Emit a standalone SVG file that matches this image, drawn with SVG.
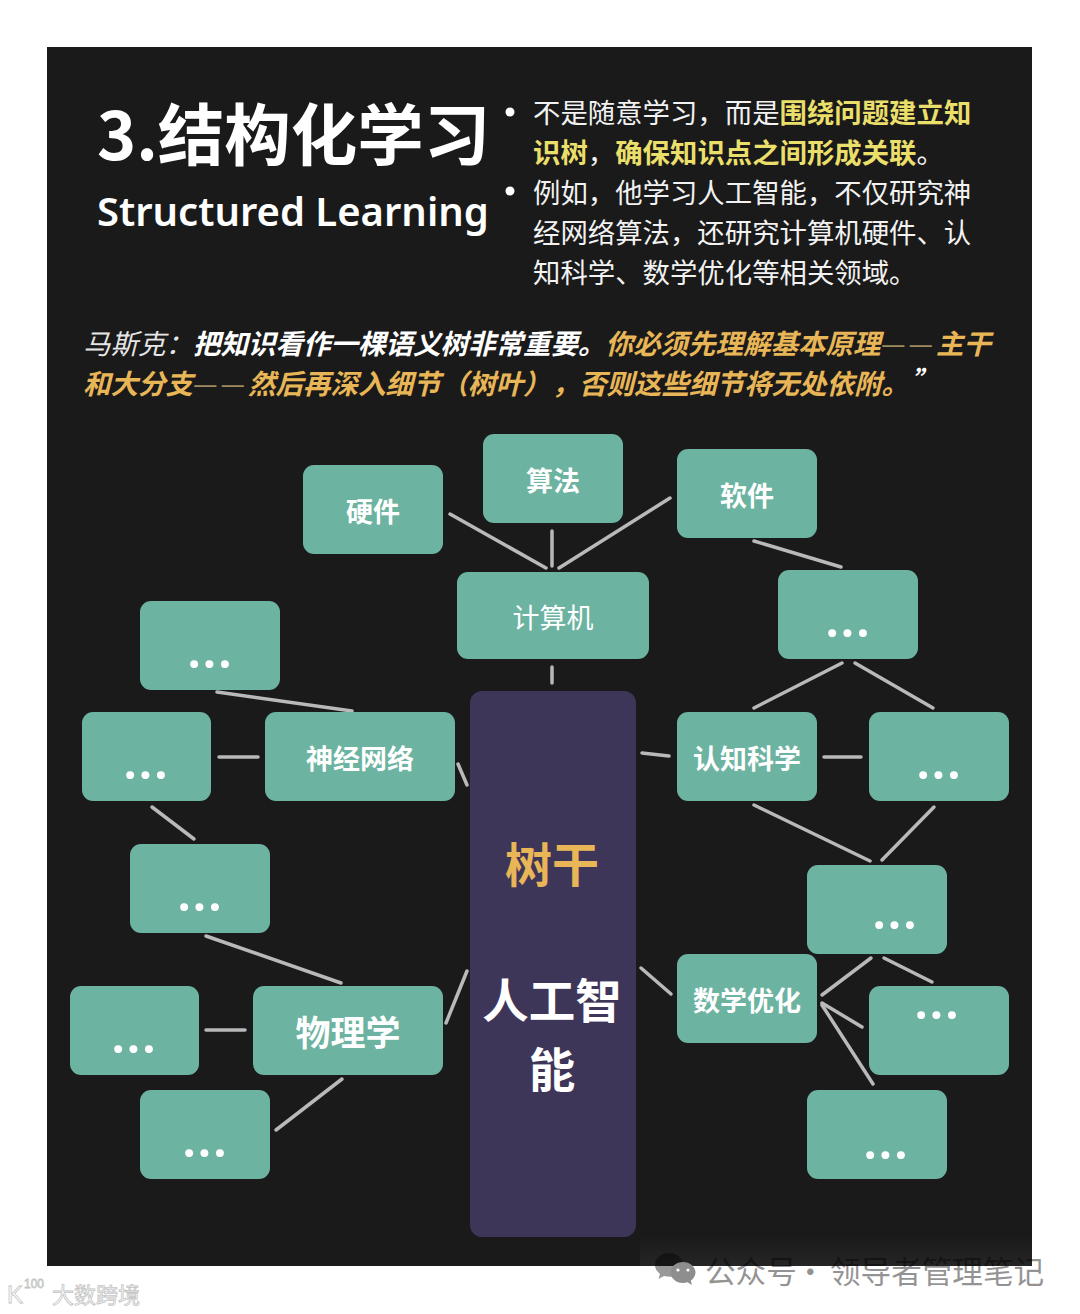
<svg xmlns="http://www.w3.org/2000/svg" width="1080" height="1314" viewBox="0 0 1080 1314">
<style>
text{font-family:"Noto Sans CJK SC","Noto Sans",sans-serif}
.n{fill:#6cb3a1}
.l{fill:#fff;font-weight:700;font-size:27px;text-anchor:middle}
.d{fill:#fff;font-family:"Lato",sans-serif;font-weight:700;font-size:52px;text-anchor:middle;letter-spacing:3px}
.b{fill:#f2f2f2;font-size:27.4px}
.y{fill:#eadf6a;font-weight:700}
.q{font-size:27.5px;font-style:italic;font-weight:700}
.h{font-size:27.5px;font-style:normal;font-weight:400;fill:#a08c5e}
.wm{fill:#fff;stroke:#c4c4c4;stroke-width:.8}
#c line{stroke:#b9b9bb;stroke-width:3.5;stroke-linecap:round}
</style>
<defs><linearGradient id="g" x1="0" y1="0" x2="0" y2="1"><stop offset="0" stop-color="#fff" stop-opacity="0"/><stop offset="1" stop-color="#fff" stop-opacity=".05"/></linearGradient></defs>
<rect width="1080" height="1314" fill="#fff"/>
<rect x="47" y="47" width="985" height="1219" fill="#1a1a1a"/>
<rect x="640" y="1236" width="392" height="30" fill="url(#g)"/>
<text x="97" y="160" fill="#fff" font-size="66.5" font-weight="700">3.结构化学习</text>
<text x="97" y="226" fill="#fff" font-size="40" font-weight="600" style="font-family:'Noto Sans',sans-serif">Structured Learning</text>
<circle cx="510" cy="112" r="4.5" fill="#fff"/><circle cx="510" cy="191" r="4.5" fill="#fff"/>
<text x="533" y="123" class="b">不是随意学习&#xFF0C;而是<tspan class="y">围绕问题建立知</tspan></text>
<text x="533" y="163" class="b"><tspan class="y">识树</tspan>&#xFF0C;<tspan class="y">确保知识点之间形成关联</tspan>。</text>
<text x="533" y="203" class="b">例如&#xFF0C;他学习人工智能&#xFF0C;不仅研究神</text>
<text x="533" y="243" class="b">经网络算法&#xFF0C;还研究计算机硬件、认</text>
<text x="533" y="283" class="b">知科学、数学优化等相关领域。</text>
<text x="83" y="354" class="q" fill="#fff"><tspan font-weight="400" fill="#e6e6e6">马斯克&#xFF1A;</tspan>把知识看作一棵语义树非常重要。<tspan fill="#e8b657">你必须先理解基本原理</tspan></text>
<text y="354" class="h"><tspan x="881">—</tspan><tspan x="908.500">—</tspan></text>
<text x="936" y="354" class="q" fill="#e8b657">主干</text>
<text x="83" y="394" class="q" fill="#e8b657">和大分支</text>
<text y="394" class="h"><tspan x="193">—</tspan><tspan x="220.500">—</tspan></text>
<text y="394" class="q" fill="#e8b657"><tspan x="248">然后再深入细节&#xFF08;树叶&#xFF09;</tspan><tspan x="552">&#xFF0C;</tspan><tspan x="579">否则这些细节将无处依附。</tspan></text>
<text x="911" y="390" fill="#fff" font-size="26" font-style="italic" font-weight="700">”</text>
<g id="c">
<line x1="450" y1="514" x2="546" y2="568"/><line x1="552" y1="531" x2="552" y2="566"/><line x1="670" y1="498" x2="559" y2="568"/>
<line x1="754" y1="541" x2="841" y2="567"/><line x1="552" y1="667" x2="552" y2="683"/>
<line x1="754" y1="708" x2="842" y2="663"/><line x1="855" y1="663" x2="933" y2="708"/>
<line x1="217" y1="692" x2="352" y2="711"/><line x1="219" y1="757" x2="258" y2="757"/><line x1="458" y1="764" x2="467" y2="785"/>
<line x1="152" y1="807" x2="194" y2="839"/><line x1="206" y1="936" x2="341" y2="983"/>
<line x1="206" y1="1030" x2="245" y2="1030"/><line x1="446" y1="1023" x2="467" y2="971"/><line x1="276" y1="1130" x2="342" y2="1079"/>
<line x1="642" y1="753" x2="669" y2="756"/><line x1="824" y1="757" x2="861" y2="757"/>
<line x1="754" y1="805" x2="870" y2="861"/><line x1="934" y1="807" x2="882" y2="860"/>
<line x1="641" y1="968" x2="671" y2="994"/><line x1="822" y1="995" x2="871" y2="958"/><line x1="884" y1="958" x2="932" y2="982"/>
<line x1="822" y1="1003" x2="862" y2="1027"/><line x1="822" y1="1005" x2="873" y2="1084"/>
</g>
<g id="trunk"><rect x="470" y="691" width="166" height="546" rx="12" fill="#3e3659"/>
<text x="552" y="882" fill="#e8b657" font-size="47" font-weight="700" text-anchor="middle">树干</text>
<text x="552" y="1018" fill="#fff" font-size="46.5" font-weight="700" text-anchor="middle">人工智</text>
<text x="552" y="1087" fill="#fff" font-size="46.5" font-weight="700" text-anchor="middle">能</text></g>
<g id="n1"><rect class="n" x="303" y="465" width="140" height="89" rx="11"/><text class="l" x="373" y="522">硬件</text></g>
<g id="n2"><rect class="n" x="483" y="434" width="140" height="89" rx="11"/><text class="l" x="553" y="491">算法</text></g>
<g id="n3"><rect class="n" x="677" y="449" width="140" height="89" rx="11"/><text class="l" x="747" y="506">软件</text></g>
<g id="n4"><rect class="n" x="457" y="572" width="192" height="87" rx="11"/><text class="l" x="553" y="628" style="font-weight:400">计算机</text></g>
<g id="n5"><rect class="n" x="778" y="570" width="140" height="89" rx="11"/><text class="d" x="849" y="637">...</text></g>
<g id="n6"><rect class="n" x="140" y="601" width="140" height="89" rx="11"/><text class="d" x="211" y="668">...</text></g>
<g id="n7"><rect class="n" x="82" y="712" width="129" height="89" rx="11"/><text class="d" x="147" y="779">...</text></g>
<g id="n8"><rect class="n" x="265" y="712" width="190" height="89" rx="11"/><text class="l" x="360" y="769">神经网络</text></g>
<g id="n9"><rect class="n" x="677" y="712" width="140" height="89" rx="11"/><text class="l" x="747" y="769">认知科学</text></g>
<g id="n10"><rect class="n" x="869" y="712" width="140" height="89" rx="11"/><text class="d" x="940" y="779">...</text></g>
<g id="n11"><rect class="n" x="130" y="844" width="140" height="89" rx="11"/><text class="d" x="201" y="911">...</text></g>
<g id="n12"><rect class="n" x="807" y="865" width="140" height="89" rx="11"/><text class="d" x="896" y="929">...</text></g>
<g id="n13"><rect class="n" x="677" y="954" width="140" height="89" rx="11"/><text class="l" x="747" y="1011">数学优化</text></g>
<g id="n14"><rect class="n" x="70" y="986" width="129" height="89" rx="11"/><text class="d" x="135" y="1053">...</text></g>
<g id="n15"><rect class="n" x="253" y="986" width="190" height="89" rx="11"/><text class="l" x="348" y="1046" style="font-size:35px">物理学</text></g>
<g id="n16"><rect class="n" x="869" y="986" width="140" height="89" rx="11"/><text class="d" x="938" y="1019">...</text></g>
<g id="n17"><rect class="n" x="140" y="1090" width="130" height="89" rx="11"/><text class="d" x="206" y="1157">...</text></g>
<g id="n18"><rect class="n" x="807" y="1090" width="140" height="89" rx="11"/><text class="d" x="887" y="1159">...</text></g>
<g id="wm">
<path d="M669 1253c-8 0-14 5.500-14 12 0 3.500 2 6.500 5 9l-1.500 5 5.500-3c2 .5 4 .8 6 .8 7.500 0 13-5.500 13-11.800 0-6.500-6-12-14-12z" fill="#000" opacity=".4"/>
<path d="M683 1262c-7 0-12.500 5-12.500 10.500s5.500 10.500 12.500 10.500c1.500 0 3-.2 4.500-.7l4.500 2.700-1.200-4.300c2.800-2 4.700-5 4.700-8.200 0-5.500-5.500-10.500-12.500-10.500z" fill="#8e8e8e"/>
<circle cx="678" cy="1270" r="1.600" fill="#fff"/><circle cx="688" cy="1270" r="1.600" fill="#fff"/>
<g fill="#000" opacity=".42" font-size="30.6">
<text x="705" y="1283">公众号</text><text x="795" y="1283">·</text><text x="830" y="1283">领导者管理笔记</text></g>
<text x="7" y="1303" font-size="24" class="wm" style="font-family:'Liberation Sans',sans-serif">K</text>
<text x="24" y="1288" font-size="12" class="wm" style="font-family:'Liberation Sans',sans-serif">100</text>
<text x="52" y="1303" font-size="22" class="wm">大数跨境</text>
</g>
</svg>
